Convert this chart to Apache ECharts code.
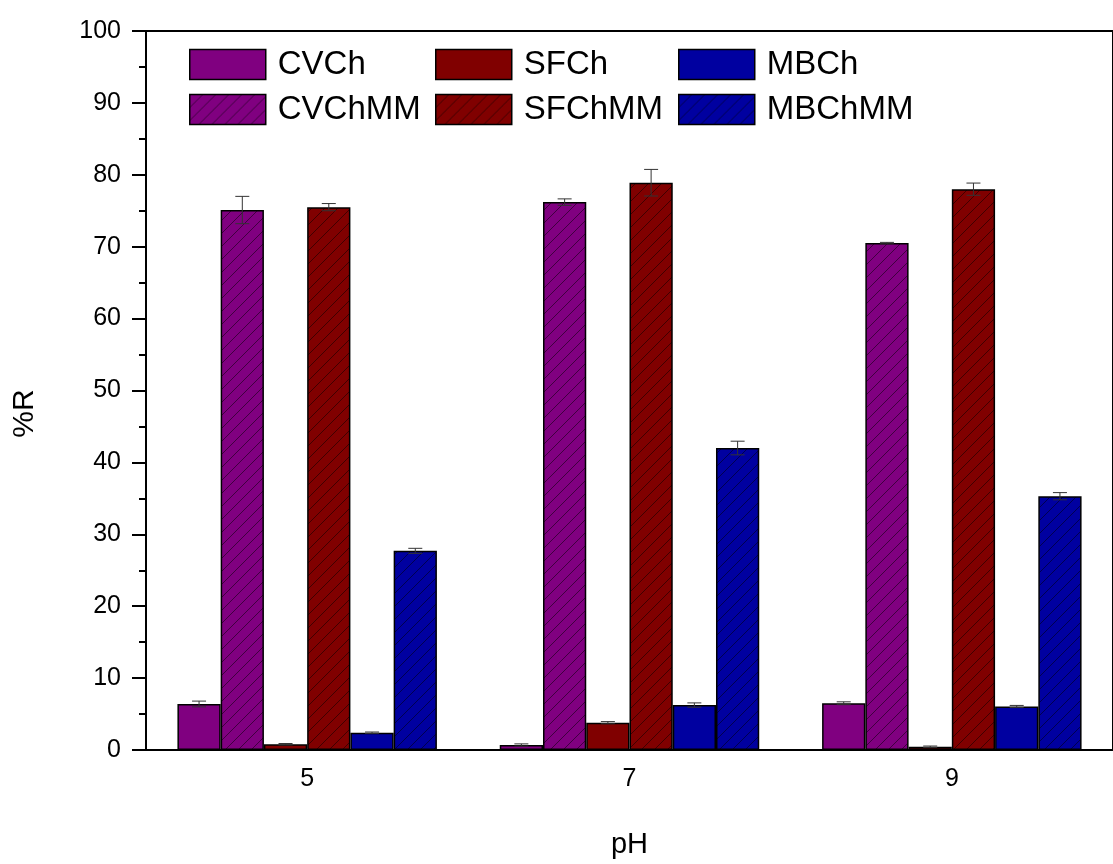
<!DOCTYPE html>
<html>
<head>
<meta charset="utf-8">
<script src="https://cdn.jsdelivr.net/npm/echarts@6/dist/echarts.min.js"></script>
<style>html,body{margin:0;padding:0;background:#fff}#c{width:1113px;height:864px}</style>
</head>
<body>
<div id="c"></div>
<script>
const categories = ['5', '7', '9'];
const seriesNames = ['CVCh', 'CVChMM', 'SFCh', 'SFChMM', 'MBCh', 'MBChMM'];
const CVCh = [6.4, 0.7, 6.5];
const CVChMM = [75.1, 76.2, 70.5];
const SFCh = [0.8, 3.8, 0.45];
const SFChMM = [75.5, 78.9, 78.0];
const MBCh = [2.4, 6.25, 6.05];
const MBChMM = [27.7, 42.0, 35.3];
const CVChErr = [0.4, 0.15, 0.2];
const CVChMMErr = [1.9, 0.45, 0.1];
const SFChErr = [0.1, 0.15, 0.1];
const SFChMMErr = [0.5, 1.85, 0.85];
const MBChErr = [0.1, 0.3, 0.15];
const MBChMMErr = [0.35, 0.95, 0.5];

const values = [CVCh, CVChMM, SFCh, SFChMM, MBCh, MBChMM];
const errors = [CVChErr, CVChMMErr, SFChErr, SFChMMErr, MBChErr, MBChMMErr];
const baseColors = ['#800080', '#800080', '#800000', '#800000', '#0000a0', '#0000a0'];
const hatched = [false, true, false, true, false, true];

function hatch(color) {
  const s = 13;
  const cv = document.createElement('canvas');
  cv.width = s; cv.height = s;
  const ctx = cv.getContext('2d');
  ctx.fillStyle = color;
  ctx.fillRect(0, 0, s, s);
  ctx.strokeStyle = 'rgba(0,0,0,0.5)';
  ctx.lineWidth = 1;
  ctx.beginPath();
  ctx.moveTo(-1, s + 1); ctx.lineTo(s + 1, -1);
  ctx.moveTo(-2, 2); ctx.lineTo(2, -2);
  ctx.moveTo(s - 2, s + 2); ctx.lineTo(s + 2, s - 2);
  ctx.stroke();
  return { image: cv, repeat: 'repeat' };
}

const GAP = 0.195;
const N = seriesNames.length;
const font = '"Liberation Sans", Arial, sans-serif';

const series = seriesNames.map((name, i) => ({
  name: name,
  type: 'bar',
  barGap: '0%',
  barCategoryGap: (GAP * 100) + '%',
  data: values[i],
  itemStyle: {
    color: hatched[i] ? hatch(baseColors[i]) : baseColors[i],
    borderColor: '#000',
    borderWidth: 1.5
  },
  emphasis: { disabled: true }
}));

seriesNames.forEach((name, i) => {
  series.push({
    type: 'custom',
    name: name + '_err',
    z: 5,
    silent: true,
    data: categories.map((c, j) => [j, values[i][j] - errors[i][j], values[i][j] + errors[i][j]]),
    renderItem: function (params, api) {
      const j = api.value(0);
      const lo = api.coord([j, api.value(1)]);
      const hi = api.coord([j, api.value(2)]);
      const band = api.size([1, 0])[0];
      const bw = band * (1 - GAP) / N;
      const x = lo[0] - band * (1 - GAP) / 2 + (i + 0.5) * bw;
      const cap = 7;
      const st = { stroke: '#333', lineWidth: 1 };
      return {
        type: 'group',
        children: [
          { type: 'line', shape: { x1: x, y1: lo[1], x2: x, y2: hi[1] }, style: st },
          { type: 'line', shape: { x1: x - cap, y1: hi[1], x2: x + cap, y2: hi[1] }, style: st },
          { type: 'line', shape: { x1: x - cap, y1: lo[1], x2: x + cap, y2: lo[1] }, style: st }
        ]
      };
    }
  });
});

function legendCol(names, left) {
  return {
    orient: 'vertical',
    left: left,
    top: 48,
    padding: 0,
    itemWidth: 76,
    itemHeight: 30,
    itemGap: 12,
    icon: 'rect',
    data: names,
    itemStyle: { borderColor: '#000', borderWidth: 1.5 },
    textStyle: { fontSize: 33, fontFamily: font, color: '#000', lineHeight: 30, padding: [0, 0, 0, 7] },
    selectedMode: false
  };
}

const chart = echarts.init(document.getElementById('c'), null, { renderer: 'canvas' });
chart.setOption({
  backgroundColor: '#fff',
  animation: false,
  textStyle: { fontFamily: font },
  grid: { left: 146, top: 31, bottom: 106, right: -9, show: true, borderColor: '#000', borderWidth: 2 },
  legend: [
    legendCol(['CVCh', 'CVChMM'], 189),
    legendCol(['SFCh', 'SFChMM'], 435),
    legendCol(['MBCh', 'MBChMM'], 678)
  ],
  xAxis: {
    type: 'category',
    data: categories,
    name: 'pH',
    nameLocation: 'middle',
    nameGap: 80,
    nameTextStyle: { fontSize: 29, color: '#000', fontFamily: font },
    axisLine: { lineStyle: { color: '#000', width: 2 } },
    axisTick: { alignWithLabel: true, length: 14, lineStyle: { color: '#000', width: 2 } },
    axisLabel: { fontSize: 25, color: '#000', margin: 17, fontFamily: font },
    splitLine: { show: false }
  },
  yAxis: {
    type: 'value',
    min: 0, max: 100, interval: 10,
    name: '%R',
    nameLocation: 'middle',
    nameGap: 106,
    nameTextStyle: { fontSize: 30, color: '#000', fontFamily: font, padding: [0, 46, 0, 0] },
    axisLine: { show: true, lineStyle: { color: '#000', width: 2 } },
    axisTick: { show: true, length: 14, lineStyle: { color: '#000', width: 2 } },
    minorTick: { show: true, splitNumber: 2, length: 7, lineStyle: { color: '#000', width: 2 } },
    axisLabel: { fontSize: 25, color: '#000', margin: 25, fontFamily: font },
    splitLine: { show: false }
  },
  series: series
});
</script>
</body>
</html>
